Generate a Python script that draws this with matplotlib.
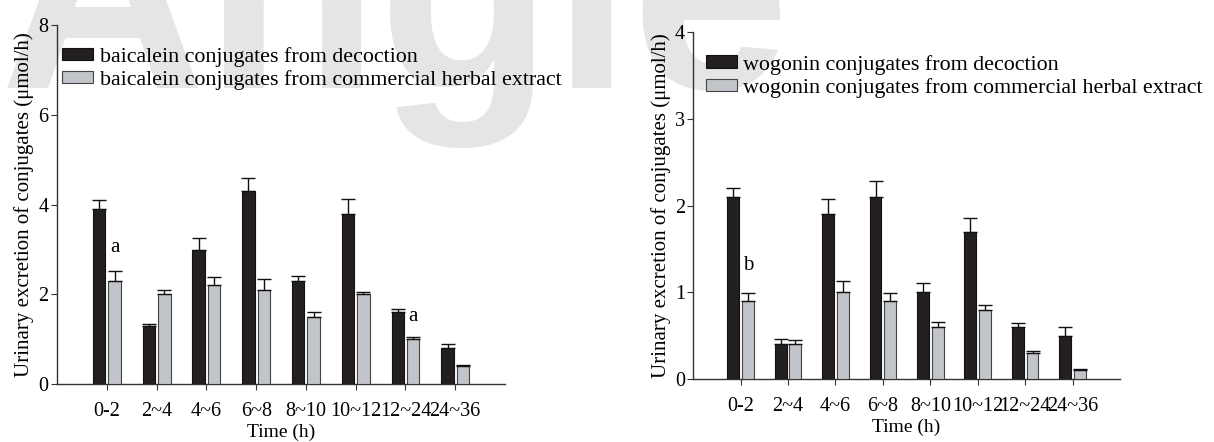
import numpy as np
import matplotlib
matplotlib.use("Agg")
import matplotlib.pyplot as plt
from matplotlib.patches import Patch

plt.rcParams["font.family"] = ["Liberation Serif", "DejaVu Serif"]

periods = ["0-2", "2~4", "4~6", "6~8", "8~10", "10~12", "12~24", "24~36"]

# baicalein conjugates (umol/h)
baic_decoction = [3.9, 1.3, 3.0, 4.3, 2.3, 3.8, 1.6, 0.8]
baic_decoction_err = [0.2, 0.04, 0.25, 0.3, 0.1, 0.32, 0.07, 0.09]
baic_extract = [2.3, 2.0, 2.2, 2.1, 1.5, 2.0, 1.0, 0.4]
baic_extract_err = [0.21, 0.1, 0.18, 0.25, 0.1, 0.06, 0.05, 0.02]

# wogonin conjugates (umol/h)
wog_decoction = [2.1, 0.4, 1.9, 2.1, 1.0, 1.7, 0.6, 0.5]
wog_decoction_err = [0.1, 0.06, 0.17, 0.18, 0.11, 0.16, 0.05, 0.1]
wog_extract = [0.9, 0.4, 1.0, 0.9, 0.6, 0.8, 0.3, 0.1]
wog_extract_err = [0.09, 0.05, 0.13, 0.09, 0.06, 0.05, 0.02, 0.02]

DARK = "#231f20"
LIGHT = "#c1c4c9"


def panel(ax, dec, dec_err, ext, ext_err, ymax, step, marks):
    x = np.arange(len(periods))
    w = 0.25
    off = 0.155
    ekw = dict(elinewidth=1.0, capthick=1.0, ecolor="#111111")
    ax.bar(x - off, dec, w, color=DARK, edgecolor="#111111", linewidth=0.8,
           yerr=[np.zeros(len(dec)), dec_err], capsize=5, error_kw=ekw, zorder=3)
    ax.bar(x + off, ext, w, color=LIGHT, edgecolor="#444444", linewidth=0.8,
           yerr=[np.zeros(len(ext)), ext_err], capsize=5, error_kw=ekw, zorder=3)
    for i, y, s in marks:
        ax.text(i + off, y, s, ha="center", va="center", fontsize=15)

    ax.set_xlim(-1, len(periods))
    ax.set_ylim(0, ymax)
    ax.set_yticks(np.arange(0, ymax + 0.01, step))
    ax.set_xticks(x)
    ax.set_xticklabels(periods)
    ax.tick_params(axis="both", labelsize=14.5, length=4, width=0.8, color="#333333")
    ax.tick_params(axis="x", pad=9)
    ax.tick_params(axis="y", pad=2)
    for side in ("top", "right"):
        ax.spines[side].set_visible(False)
    for side in ("left", "bottom"):
        ax.spines[side].set_linewidth(1.0)
        ax.spines[side].set_color("#333333")
    ax.set_xlabel("Time (h)", fontsize=14, labelpad=2)
    ax.set_ylabel("Urinary excretion of conjugates (\u03bcmol/h)", fontsize=15, labelpad=3)
    ax.patch.set_alpha(0)

    handles = [Patch(facecolor=DARK, edgecolor="#111111", linewidth=0.8),
               Patch(facecolor=LIGHT, edgecolor="#444444", linewidth=0.8)]
    return handles


fig = plt.figure(figsize=(12.14, 4.42), dpi=100)

# faint watermark behind the plots
fig.text(0.0, 0.80, "Angle", fontsize=205, fontweight="bold", color="#e5e5e5",
         family="Liberation Sans", ha="left", va="baseline", zorder=-5)

leg_kw = dict(loc="upper left", frameon=False, fontsize=15.8, handlelength=1.4,
              handleheight=0.5, handletextpad=0.3, labelspacing=0.15, borderaxespad=0.0,
              borderpad=0.0)

ax1 = fig.add_axes([0.047, 0.131, 0.369, 0.812])
h1 = panel(ax1, baic_decoction, baic_decoction_err, baic_extract, baic_extract_err,
           8, 2, [(0, 3.05, "a"), (6, 1.5, "a")])
ax1.legend(h1, ["baicalein conjugates from decoction",
                "baicalein conjugates from commercial herbal extract"],
           bbox_to_anchor=(0.012, 0.94), **leg_kw)

ax2 = fig.add_axes([0.571, 0.1425, 0.3516, 0.785])
h2 = panel(ax2, wog_decoction, wog_decoction_err, wog_extract, wog_extract_err,
           4, 1, [(0, 1.31, "b")])
ax2.legend(h2, ["wogonin conjugates from decoction",
                "wogonin conjugates from commercial herbal extract"],
           bbox_to_anchor=(0.03, 0.935), **leg_kw)

fig.savefig("out.png", dpi=100)
